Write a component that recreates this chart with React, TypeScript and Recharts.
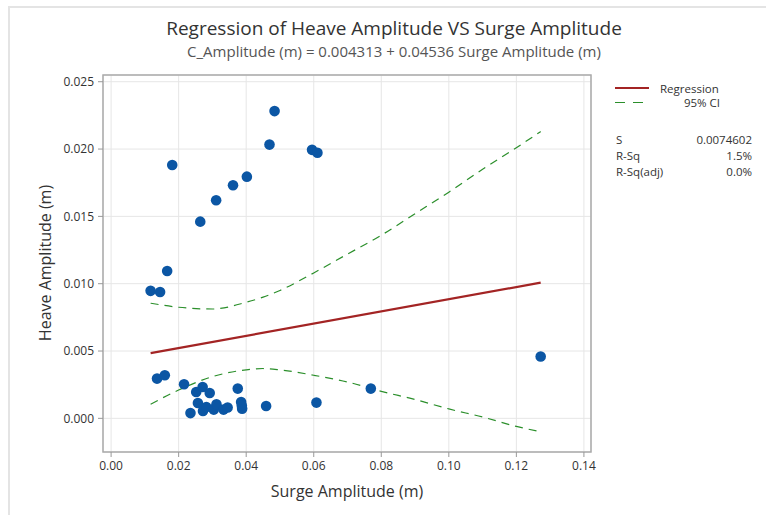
import {
  ComposedChart,
  Scatter,
  Line,
  XAxis,
  YAxis,
  CartesianGrid,
  ReferenceArea,
} from 'recharts';

// observations
const surgeX = [
  0.0117, 0.0145, 0.0166, 0.0181, 0.0264, 0.0311, 0.0361, 0.0402, 0.0469, 0.0484, 0.0595, 0.0611,
  0.0136, 0.0159, 0.0216, 0.0252, 0.0271, 0.0292, 0.0375, 0.0257, 0.0235, 0.0272, 0.0282, 0.0304,
  0.0312, 0.0333, 0.0345, 0.0385, 0.0388, 0.0387, 0.0459, 0.0608, 0.0769, 0.1272,
];
const heaveY = [
  0.00947, 0.00938, 0.01094, 0.01882, 0.01461, 0.0162, 0.01731, 0.01795, 0.02033, 0.02282, 0.01994, 0.01972,
  0.00295, 0.0032, 0.00253, 0.00196, 0.00233, 0.00188, 0.00221, 0.00114, 0.00039, 0.00054, 0.00084, 0.00065,
  0.00104, 0.00065, 0.0008, 0.00121, 0.00072, 0.00096, 0.00092, 0.00117, 0.00221, 0.00459,
];

// fitted line
const fitX = [0.0117, 0.1272];
const fitY = [0.00484, 0.01008];

// 95% CI bands
const ciX = [0.0117, 0.02, 0.03, 0.04, 0.045, 0.05, 0.06, 0.07, 0.08, 0.09, 0.1, 0.11, 0.12, 0.1272];
const ciUpper = [0.00855, 0.00825, 0.00812, 0.00862, 0.009, 0.0095, 0.0108, 0.0122, 0.0136, 0.0152, 0.0168, 0.0185, 0.0201, 0.0213];
const ciLower = [0.00105, 0.0021, 0.0031, 0.0036, 0.0037, 0.0036, 0.0032, 0.0027, 0.002, 0.0014, 0.0007, 0.0001, -0.0006, -0.001];

const xTicks = [0, 0.02, 0.04, 0.06, 0.08, 0.1, 0.12, 0.14];
const yTicks = [0, 0.005, 0.01, 0.015, 0.02, 0.025];

const stats = [
  ['S', '0.0074602'],
  ['R-Sq', '1.5%'],
  ['R-Sq(adj)', '0.0%'],
];

const FONT = '"Open Sans", "Noto Sans", sans-serif';
const BLUE = '#0b56a4';
const RED = '#a32424';
const GREEN = '#2b8f2b';

const points = surgeX.map((x, i) => ({ x, y: heaveY[i] }));
const fit = fitX.map((x, i) => ({ x, y: fitY[i] }));
const upper = ciX.map((x, i) => ({ x, y: ciUpper[i] }));
const lower = ciX.map((x, i) => ({ x, y: ciLower[i] }));

const X_DOMAIN: [number, number] = [-0.0024, 0.1421];
const Y_DOMAIN: [number, number] = [-0.0025, 0.0255];

const Dot = (props: any) => <circle cx={props.cx} cy={props.cy} r={5.3} fill={BLUE} />;

export default function App() {
  return (
    <div style={{ position: 'fixed', left: 0, top: 0, width: 766, height: 515, background: '#fff', fontFamily: FONT, color: '#333' }}>
      {/* outer panel edge */}
      <div style={{ position: 'absolute', left: 8, top: 6, width: 800, height: 600, borderLeft: '2px solid #e4e4e4', borderTop: '2px solid #e4e4e4' }} />

      <div style={{ position: 'absolute', left: 394, top: 17, transform: 'translateX(-50%)', whiteSpace: 'nowrap', fontSize: 19, lineHeight: '22px', color: '#333' }}>
        Regression of Heave Amplitude VS Surge Amplitude
      </div>
      <div style={{ position: 'absolute', left: 394, top: 42, transform: 'translateX(-50%)', whiteSpace: 'nowrap', fontSize: 15, lineHeight: '18px', color: '#555' }}>
        C_Amplitude (m) = 0.004313 + 0.04536 Surge Amplitude (m)
      </div>

      <ComposedChart width={766} height={515} margin={{ top: 75, right: 175, left: 0, bottom: 33 }} style={{ position: 'absolute', left: 0, top: 0 }}>
        <CartesianGrid stroke="#e6e6e6" strokeWidth={1} />
        <XAxis
          type="number"
          dataKey="x"
          domain={X_DOMAIN}
          ticks={xTicks}
          allowDataOverflow
          height={30}
          axisLine={false}
          tickLine={{ stroke: '#999' }}
          tickSize={5}
          tickMargin={4}
          tick={{ fontSize: 12, fill: '#333', fontFamily: FONT }}
          tickFormatter={(v: number) => v.toFixed(2)}
        />
        <YAxis
          type="number"
          dataKey="y"
          domain={Y_DOMAIN}
          ticks={yTicks}
          allowDataOverflow
          width={103}
          axisLine={false}
          tickLine={{ stroke: '#999' }}
          tickSize={5}
          tickMargin={4}
          tick={{ fontSize: 12, fill: '#333', fontFamily: FONT }}
          tickFormatter={(v: number) => v.toFixed(3)}
        />
        <ReferenceArea x1={X_DOMAIN[0]} x2={X_DOMAIN[1]} y1={Y_DOMAIN[0]} y2={Y_DOMAIN[1]} fill="none" stroke="#aaa" strokeWidth={1.5} fillOpacity={0} />
        <Line data={upper} dataKey="y" type="monotone" stroke={GREEN} strokeWidth={1.2} strokeDasharray="8 6" dot={false} isAnimationActive={false} />
        <Line data={lower} dataKey="y" type="monotone" stroke={GREEN} strokeWidth={1.2} strokeDasharray="8 6" dot={false} isAnimationActive={false} />
        <Line data={fit} dataKey="y" type="linear" stroke={RED} strokeWidth={2.2} dot={false} isAnimationActive={false} />
        <Scatter data={points} dataKey="y" shape={Dot} isAnimationActive={false} />
      </ComposedChart>

      <div style={{ position: 'absolute', left: 45, top: 263, transform: 'translate(-50%, -50%) rotate(-90deg)', whiteSpace: 'nowrap', fontSize: 16, color: '#333' }}>
        Heave Amplitude (m)
      </div>
      <div style={{ position: 'absolute', left: 347, top: 480, transform: 'translateX(-50%)', whiteSpace: 'nowrap', fontSize: 16, color: '#333' }}>
        Surge Amplitude (m)
      </div>

      {/* legend */}
      <div style={{ position: 'absolute', left: 615, top: 87, width: 34, height: 0, borderTop: `2.5px solid ${RED}` }} />
      <div style={{ position: 'absolute', left: 660, top: 81, fontSize: 11.5, color: '#333' }}>Regression</div>
      <div style={{ position: 'absolute', left: 615, top: 102, width: 10, height: 0, borderTop: `1.3px solid ${GREEN}` }} />
      <div style={{ position: 'absolute', left: 633, top: 102, width: 10, height: 0, borderTop: `1.3px solid ${GREEN}` }} />
      <div style={{ position: 'absolute', left: 650, top: 95, width: 70, textAlign: 'right', fontSize: 11.5, color: '#333' }}>95% CI</div>

      {stats.map(([k, v], i) => (
        <div key={k} style={{ position: 'absolute', left: 616, top: 132 + i * 16, width: 136, display: 'flex', justifyContent: 'space-between', fontSize: 11.5, color: '#333' }}>
          <span>{k}</span>
          <span>{v}</span>
        </div>
      ))}
    </div>
  );
}
